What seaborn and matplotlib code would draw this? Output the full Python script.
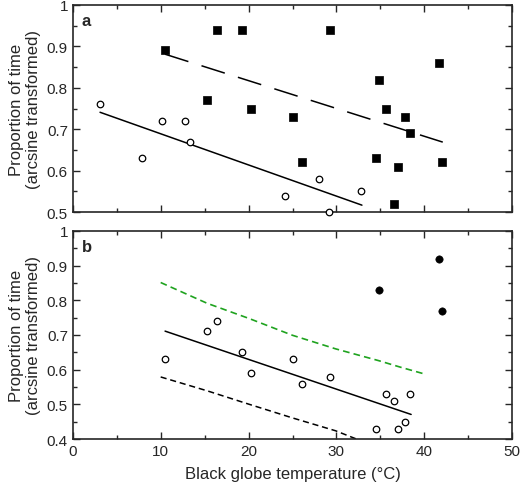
import numpy as np
import pandas as pd
import seaborn as sns
import matplotlib.pyplot as plt
from matplotlib.ticker import MultipleLocator

sns.set_style("ticks")
plt.rcParams['font.family'] = ['Liberation Sans', 'DejaVu Sans']

# panel a - squares (filled) and circles (open)
a_sq_x = [10.5, 16.4, 19.2, 29.3, 15.3, 20.3, 25.0, 26.1, 34.8, 35.6, 37.8, 38.4, 34.5, 37.0, 36.6, 41.7, 42.0]
a_sq_y = [0.89, 0.94, 0.94, 0.94, 0.77, 0.75, 0.73, 0.62, 0.82, 0.75, 0.73, 0.69, 0.63, 0.61, 0.52, 0.86, 0.62]
a_ci_x = [3.1, 7.9, 10.1, 12.8, 13.3, 24.2, 28.0, 29.2, 32.8]
a_ci_y = [0.76, 0.63, 0.72, 0.72, 0.67, 0.54, 0.58, 0.50, 0.55]
a_solid_x = [3.1, 32.9]
a_solid_y = [0.741, 0.517]
a_dash_x = [10.5, 42.1]
a_dash_y = [0.881, 0.669]

# panel b
b_ci_x = [10.5, 15.3, 16.4, 19.2, 20.3, 25.0, 26.1, 29.3, 34.5, 35.6, 36.6, 37.0, 37.8, 38.4]
b_ci_y = [0.63, 0.71, 0.74, 0.65, 0.59, 0.63, 0.56, 0.58, 0.43, 0.53, 0.51, 0.43, 0.45, 0.53]
b_fill_x = [34.8, 41.7, 42.0]
b_fill_y = [0.83, 0.92, 0.77]
b_solid_x = [10.5, 38.5]
b_solid_y = [0.711, 0.471]
b_up_x = [10.0, 15.3, 20.1, 25.0, 29.9, 34.8, 37.3, 40.1]
b_up_y = [0.851, 0.791, 0.747, 0.699, 0.660, 0.626, 0.607, 0.587]
b_lo_x = [10.0, 15.3, 20.1, 25.0, 29.9, 32.3, 34.0]
b_lo_y = [0.579, 0.539, 0.500, 0.461, 0.424, 0.400, 0.38]

fig = plt.figure(figsize=(5.2, 4.89), dpi=100)
ax1 = fig.add_axes([0.140, 0.564, 0.845, 0.424])
ax2 = fig.add_axes([0.140, 0.100, 0.845, 0.426])

sns.scatterplot(x=a_sq_x, y=a_sq_y, ax=ax1, marker='s', s=30, color='black', edgecolor='black', linewidth=0.5, zorder=3)
sns.scatterplot(x=a_ci_x, y=a_ci_y, ax=ax1, marker='o', s=22, facecolor='white', edgecolor='black', linewidth=0.9, zorder=3, clip_on=False)
sns.lineplot(x=a_solid_x, y=a_solid_y, ax=ax1, color='black', linewidth=1.1)
ax1.plot(a_dash_x, a_dash_y, color='black', linewidth=1.1, dashes=(16, 9))

sns.scatterplot(x=b_ci_x, y=b_ci_y, ax=ax2, marker='o', s=22, facecolor='white', edgecolor='black', linewidth=0.9, zorder=3)
sns.scatterplot(x=b_fill_x, y=b_fill_y, ax=ax2, marker='o', s=28, color='black', edgecolor='black', zorder=3)
sns.lineplot(x=b_solid_x, y=b_solid_y, ax=ax2, color='black', linewidth=1.1)
ax2.plot(b_up_x, b_up_y, color='#1fa31f', linewidth=1.2, dashes=(4, 2.5))
ax2.plot(b_lo_x, b_lo_y, color='black', linewidth=1.1, dashes=(4, 2.5))

for ax, lab, ylo in [(ax1, 'a', 0.5), (ax2, 'b', 0.4)]:
    ax.set_xlim(0, 50)
    ax.set_ylim(ylo, 1)
    ax.xaxis.set_major_locator(MultipleLocator(10))
    ax.xaxis.set_minor_locator(MultipleLocator(5))
    ax.yaxis.set_major_locator(MultipleLocator(0.1))
    ax.yaxis.set_minor_locator(MultipleLocator(0.05))
    ax.tick_params(which='both', direction='in', top=True, right=True, labelsize=11, width=1)
    ax.tick_params(which='major', length=5)
    ax.tick_params(which='minor', length=3)
    ax.set_yticks(np.arange(ylo, 1.01, 0.1))
    ax.set_yticklabels([('%g' % round(v, 1)) for v in np.arange(ylo, 1.01, 0.1)])
    for sp in ax.spines.values():
        sp.set_linewidth(1.2)
    ax.set_ylabel('Proportion of time\n(arcsine transformed)', fontsize=12, labelpad=4)
    ax.text(0.02, 0.96, lab, transform=ax.transAxes, fontsize=12, fontweight='bold', va='top')

ax1.set_xticklabels([])
ax2.set_xlabel('Black globe temperature (°C)', fontsize=12, labelpad=6)

fig.savefig('out.png', dpi=100)
